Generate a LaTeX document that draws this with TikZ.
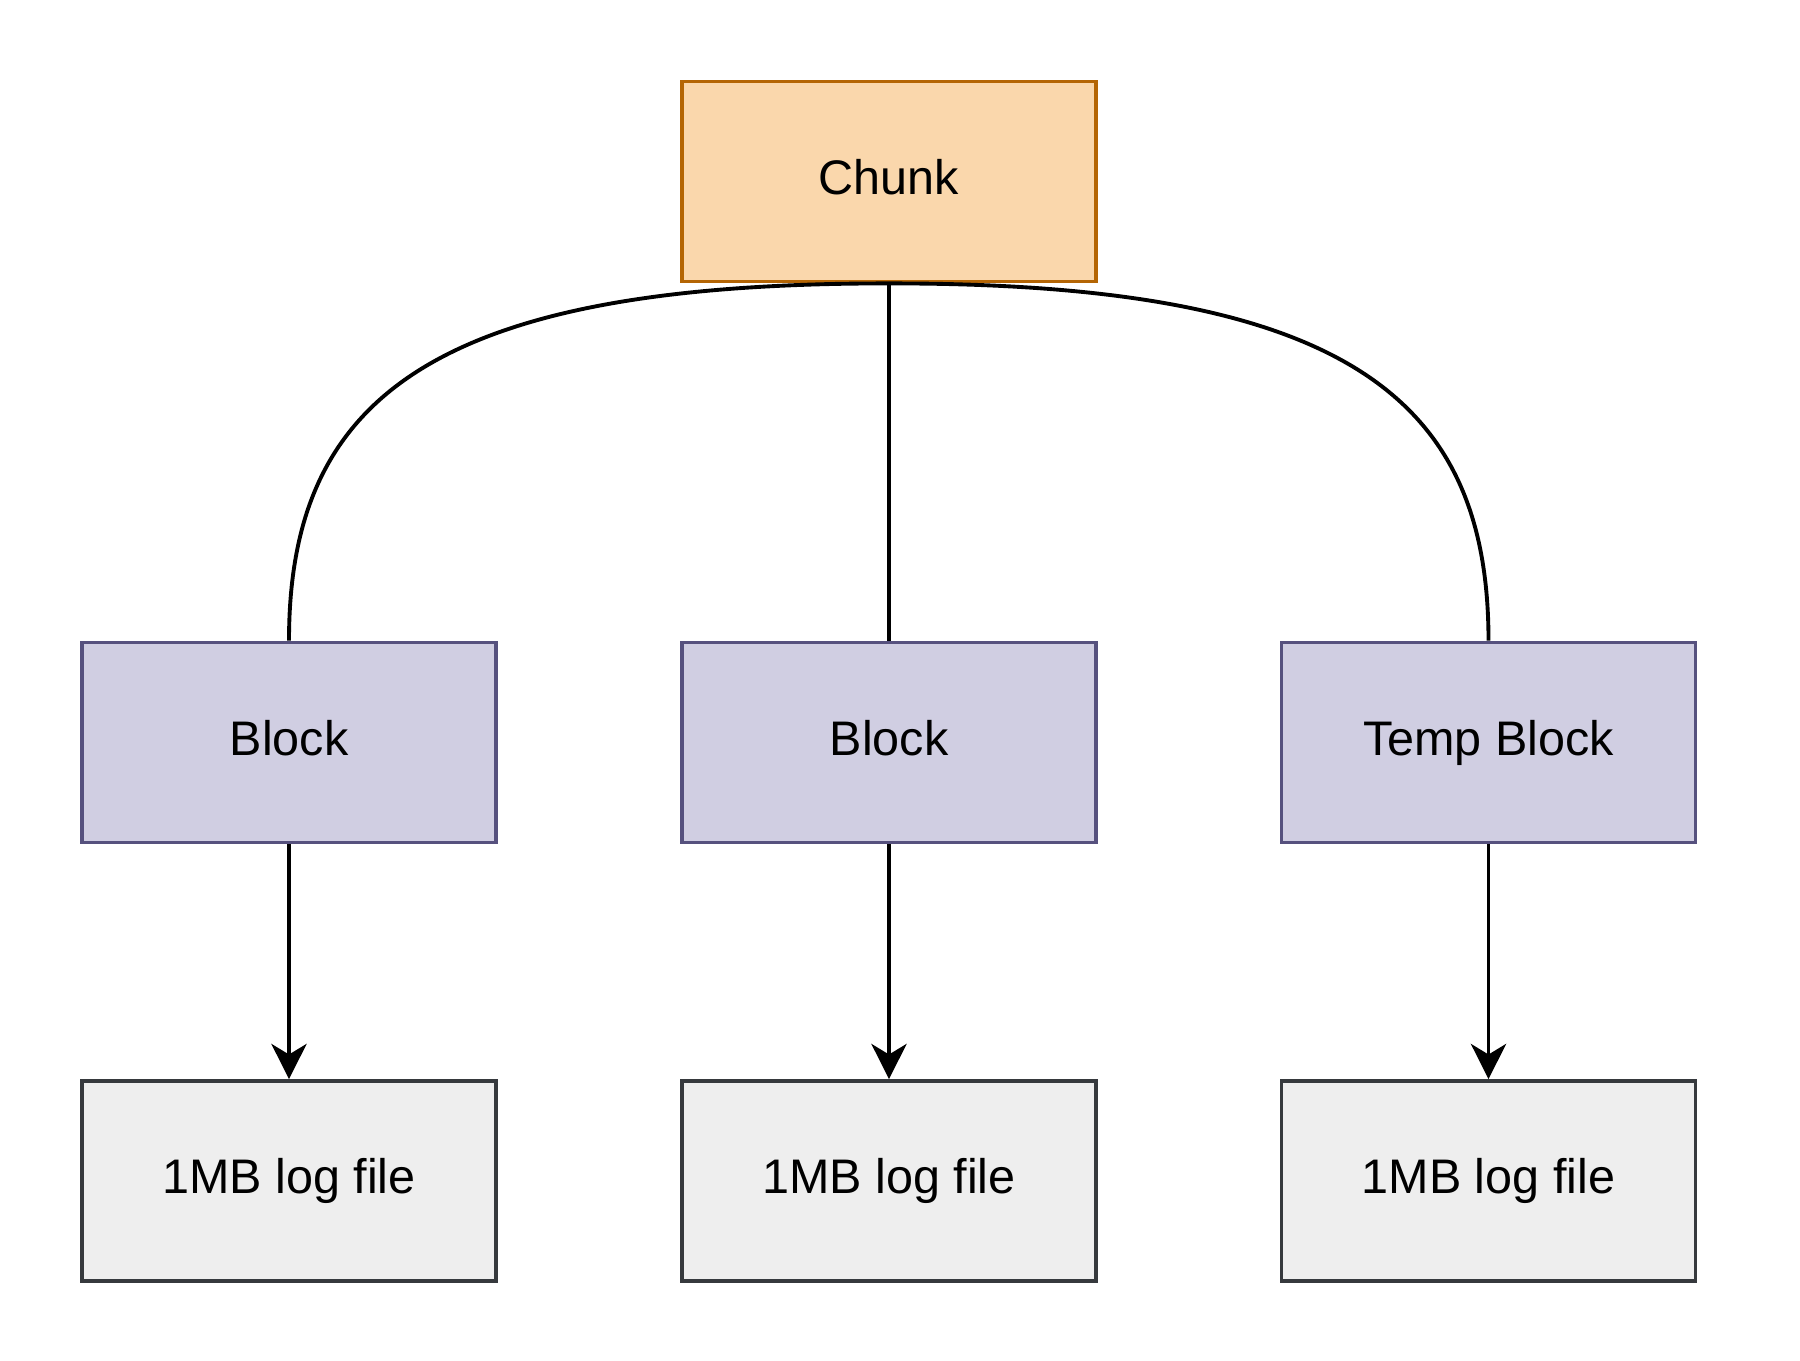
\documentclass[tikz,border=0pt]{standalone}
\usepackage{fontspec}
\setmainfont{Liberation Sans}
\usetikzlibrary{arrows.meta}
\definecolor{chunkfill}{HTML}{FAD7AC}
\definecolor{chunkdraw}{HTML}{B46504}
\definecolor{blockfill}{HTML}{D0CEE2}
\definecolor{blockdraw}{HTML}{56517E}
\definecolor{logfill}{HTML}{EEEEEE}
\definecolor{logdraw}{HTML}{36393D}
\begin{document}
\begin{tikzpicture}[x=0.01cm,y=-0.01cm,
  box/.style={rectangle, minimum width=4.14cm, minimum height=2.0cm, line width=1.05pt, font=\fontsize{13.8}{16}\selectfont, inner sep=0pt, text height=0.716em, text depth=0pt},
  chunkbox/.style={box, fill=chunkfill, draw=chunkdraw},
  blockbox/.style={box, fill=blockfill, draw=blockdraw},
  logbox/.style={box, fill=logfill, draw=logdraw},
  conn/.style={line width=1.1pt, black},
  arr/.style={conn, -{Stealth[length=10pt,width=10pt,inset=3pt]}}]
\useasboundingbox (0,0) rectangle (1800,1360);
\node[chunkbox] (chunk) at (889,181.5) {Chunk};
\node[blockbox] (b1) at (289,742.5) {Block};
\node[blockbox] (b2) at (889,742.5) {Block};
\node[blockbox] (b3) at (1488.5,742.5) {Temp Block};
\node[logbox] (l1) at (289,1181) {1MB log file};
\node[logbox] (l2) at (889,1181) {1MB log file};
\node[logbox] (l3) at (1488.5,1181) {1MB log file};
\draw[conn] (chunk.south) .. controls (430,283) and (289,400) .. (b1.north);
\draw[conn] (chunk.south) -- (b2.north);
\draw[conn] (chunk.south) .. controls (1348,283) and (1488.5,400) .. (b3.north);
\draw[arr] (b1.south) -- (l1.north);
\draw[arr] (b2.south) -- (l2.north);
\draw[arr] (b3.south) -- (l3.north);
\end{tikzpicture}
\end{document}
